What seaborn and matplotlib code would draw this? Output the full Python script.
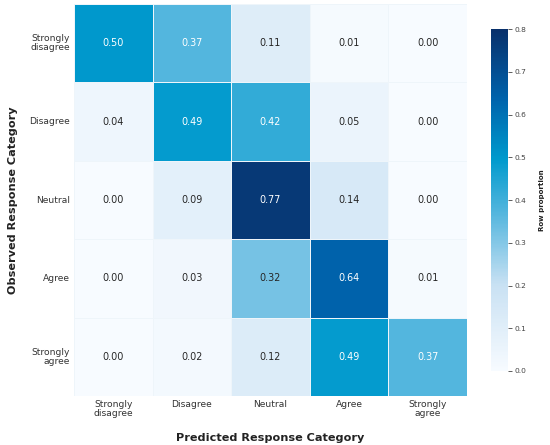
import numpy as np
import pandas as pd
import matplotlib.pyplot as plt
import seaborn as sns
from matplotlib.colors import LinearSegmentedColormap

# --- data ---
observed = ['Strongly\ndisagree', 'Disagree', 'Neutral', 'Agree', 'Strongly\nagree']
predicted = ['Strongly\ndisagree', 'Disagree', 'Neutral', 'Agree', 'Strongly\nagree']

row_strongly_disagree = [0.50, 0.37, 0.11, 0.01, 0.00]
row_disagree = [0.04, 0.49, 0.42, 0.05, 0.00]
row_neutral = [0.00, 0.09, 0.77, 0.14, 0.00]
row_agree = [0.00, 0.03, 0.32, 0.64, 0.01]
row_strongly_agree = [0.00, 0.02, 0.12, 0.49, 0.37]

cbar_ticks = [0.0, 0.1, 0.2, 0.3, 0.4, 0.5, 0.6, 0.7, 0.8]

cm = pd.DataFrame(
    [row_strongly_disagree, row_disagree, row_neutral, row_agree, row_strongly_agree],
    index=observed, columns=predicted
)

sns.set_theme(style='white')
plt.rcParams['font.family'] = ['DejaVu Sans']

cmap = LinearSegmentedColormap.from_list(
    'rowprop',
    [(0.0, '#f7fbff'), (0.25, '#c9e1f3'), (0.45, '#5ab8df'),
     (0.62, '#009acd'), (0.80, '#0062ab'), (1.0, '#08306b')]
)

fig = plt.figure(figsize=(5.5, 4.45), dpi=100)
ax = fig.add_axes([0.1345, 0.110, 0.7145, 0.881])
cax = fig.add_axes([0.8927, 0.1663, 0.031, 0.7685])

sns.heatmap(
    cm, ax=ax, cbar_ax=cax, cmap=cmap, vmin=0, vmax=0.8,
    annot=True, fmt='.2f', annot_kws={'fontsize': 6.9},
    linewidths=0.6, linecolor='#eef5fa', square=False,
    cbar_kws={'ticks': cbar_ticks}
)

ax.set_xlabel('Predicted Response Category', fontsize=8.1, fontweight='bold',
              labelpad=11, color='#222222')
ax.set_ylabel('Observed Response Category', fontsize=8.1, fontweight='bold',
              labelpad=8, color='#222222')
ax.tick_params(axis='x', labelsize=6.6, rotation=0, colors='#333333', length=0, pad=2.5)
ax.tick_params(axis='y', labelsize=6.6, rotation=0, colors='#333333', length=0, pad=3)
for lab in ax.get_xticklabels():
    lab.set_horizontalalignment('center')
    lab.set_linespacing(1.0)
for lab in ax.get_yticklabels():
    lab.set_linespacing(1.0)

cax.set_ylabel('Row proportion', fontsize=5, fontweight='bold', labelpad=9, color='#222222')
cax.tick_params(labelsize=5.4, colors='#444444', length=3, width=0.6, pad=2)
cax.set_yticklabels([f'{t:.1f}' for t in cbar_ticks])
for s in cax.spines.values():
    s.set_visible(False)

plt.savefig('out.png', dpi=100)
plt.close()
